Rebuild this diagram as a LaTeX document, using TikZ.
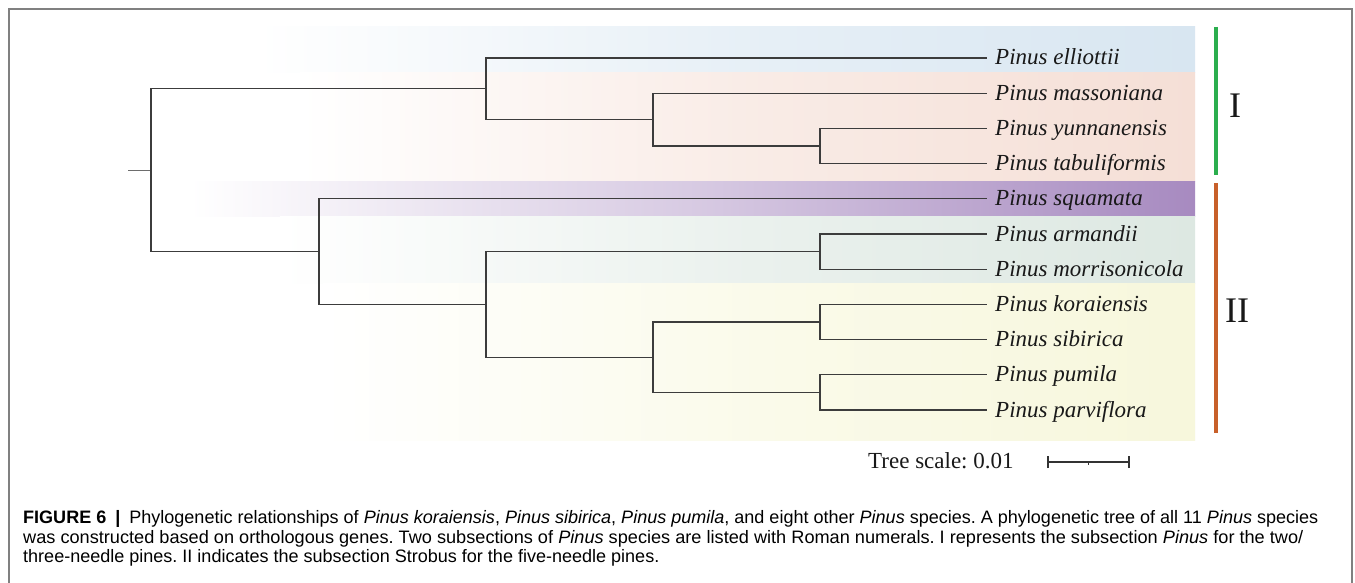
\documentclass[tikz,border=0pt]{standalone}
\usepackage{fontspec}
\setmainfont{Liberation Serif}
\newfontfamily\capfont{Liberation Sans}
\definecolor{bandblue}{HTML}{D8E6F1}
\definecolor{bandsalmon}{HTML}{F5DFD6}
\definecolor{bandpurple}{HTML}{A78AC0}
\definecolor{bandgreen}{HTML}{DDE8E2}
\definecolor{bandyellow}{HTML}{F7F7DC}
\definecolor{barI}{HTML}{2BAE4E}
\definecolor{barII}{HTML}{C8602A}
\definecolor{branchcol}{HTML}{3C3C3C}
\definecolor{capcol}{HTML}{404040}
\newsavebox\capboxA
\newsavebox\capboxB
\newsavebox\capboxC
\newlength\capwA
\newlength\capwB
\frenchspacing
\begin{document}
\frenchspacing
\sbox\capboxA{\capfont\fontsize{18}{20}\selectfont\textbf{FIGURE 6}\enspace\textbf{|}\enspace Phylogenetic relationships of \textit{Pinus koraiensis}, \textit{Pinus sibirica}, \textit{Pinus pumila}, and eight other \textit{Pinus} species. A phylogenetic tree of all 11 \textit{Pinus} species}
\sbox\capboxB{\capfont\fontsize{18}{20}\selectfont was constructed based on orthologous genes. Two subsections of \textit{Pinus} species are listed with Roman numerals. I represents the subsection \textit{Pinus} for the two/}
\sbox\capboxC{\capfont\fontsize{18}{20}\selectfont three-needle pines. II indicates the subsection Strobus for the five-needle pines.}
\setlength\capwA{\wd\capboxA}
\setlength\capwB{\wd\capboxB}
\begin{tikzpicture}[x=1pt,y=-1pt,
  branch/.style={draw=branchcol,line width=1.3pt},
  stub/.style={draw=branchcol!75,line width=1.3pt},
  leaflabel/.style={anchor=base west,inner sep=0pt,font=\fontsize{23}{26}\selectfont\itshape,text=black!90},
  roman/.style={anchor=base west,inner sep=0pt,font=\fontsize{36}{40}\selectfont,text=black!90},
  capline/.style={anchor=base west,inner sep=0pt,text=capcol},
  frameline/.style={draw=black!50,line width=1.2pt}]
\useasboundingbox (0,0) rectangle (1355,583);
\fill[white] (0,0) rectangle (1355,583);
% frame
\draw[frameline] (9,583) -- (9,9) -- (1352,9) -- (1352,583);
% bands
\shade[left color=white,right color=bandblue,middle color=bandblue!60!white] (257,27) rectangle (1195,73);
\shade[left color=white,right color=bandsalmon,middle color=bandsalmon!60!white] (300,73) rectangle (1195,181);
\shade[left color=white,right color=bandpurple,middle color=bandpurple!45!white] (190,181) rectangle (1195,216);
\shade[left color=white,right color=bandgreen,middle color=bandgreen!60!white] (280,216) rectangle (1195,283);
\shade[left color=white,right color=bandyellow,middle color=bandyellow!60!white] (323,283) rectangle (1195,440);
% internal nodes
\coordinate (root) at (151,170.2);
\coordinate (r0) at (128,170.2);
\coordinate (nI) at (486,88.8);
\coordinate (nM) at (653,119.6);
\coordinate (nYT) at (820,146);
\coordinate (nII) at (319,251.6);
\coordinate (nAK) at (486,304.4);
\coordinate (nAM) at (820,251.6);
\coordinate (nKP) at (653,357.2);
\coordinate (nKS) at (820,322);
\coordinate (nPP) at (820,392.4);
% tips
\foreach \i/\yy in {0/58,1/93.2,2/128.4,3/163.6,4/198.8,5/234,6/269.2,7/304.4,8/339.6,9/374.8,10/410}
  \coordinate (t\i) at (987,\yy);
% labels
\node[leaflabel] (l0) at ([xshift=8pt,yshift=-7pt]t0) {Pinus elliottii};
\node[leaflabel] (l1) at ([xshift=8pt,yshift=-7pt]t1) {Pinus massoniana};
\node[leaflabel] (l2) at ([xshift=8pt,yshift=-7pt]t2) {Pinus yunnanensis};
\node[leaflabel] (l3) at ([xshift=8pt,yshift=-7pt]t3) {Pinus tabuliformis};
\node[leaflabel] (l4) at ([xshift=8pt,yshift=-7pt]t4) {Pinus squamata};
\node[leaflabel] (l5) at ([xshift=8pt,yshift=-7pt]t5) {Pinus armandii};
\node[leaflabel] (l6) at ([xshift=8pt,yshift=-7pt]t6) {Pinus morrisonicola};
\node[leaflabel] (l7) at ([xshift=8pt,yshift=-7pt]t7) {Pinus koraiensis};
\node[leaflabel] (l8) at ([xshift=8pt,yshift=-7pt]t8) {Pinus sibirica};
\node[leaflabel] (l9) at ([xshift=8pt,yshift=-7pt]t9) {Pinus pumila};
\node[leaflabel] (l10) at ([xshift=8pt,yshift=-7pt]t10) {Pinus parviflora};
% branches
\draw[stub] (r0) -- (root);
\draw[branch] (root) |- (nI);
\draw[branch] (root) |- (nII);
\draw[branch] (nI) |- (t0);
\draw[branch] (nI) |- (nM);
\draw[branch] (nM) |- (t1);
\draw[branch] (nM) |- (nYT);
\draw[branch] (nYT) |- (t2);
\draw[branch] (nYT) |- (t3);
\draw[branch] (nII) |- (t4);
\draw[branch] (nII) |- (nAK);
\draw[branch] (nAK) |- (nAM);
\draw[branch] (nAK) |- (nKP);
\draw[branch] (nAM) |- (t5);
\draw[branch] (nAM) |- (t6);
\draw[branch] (nKP) |- (nKS);
\draw[branch] (nKP) |- (nPP);
\draw[branch] (nKS) |- (t7);
\draw[branch] (nKS) |- (t8);
\draw[branch] (nPP) |- (t9);
\draw[branch] (nPP) |- (t10);
% clade bars
\coordinate (bIa) at (1216,27);
\coordinate (bIb) at (1216,175);
\coordinate (bIIa) at (1216,183);
\coordinate (bIIb) at (1216,433);
\draw[draw=barI,line width=4pt] (bIa) -- (bIb);
\draw[draw=barII,line width=4pt] (bIIa) -- (bIIb);
\node[roman] (cI) at (1229,118) {I};
\node[roman] (cII) at (1225,322) {II};
% tree scale
\node[anchor=base west,inner sep=0pt,font=\fontsize{23}{26}\selectfont,text=black!90] (ts) at (868,468) {Tree scale: 0.01};
\coordinate (sa) at (1048,462);
\coordinate (sb) at (1129,462);
\coordinate (sm) at (1088.5,462);
\draw[draw=black!80,line width=1.1pt] (sa) -- (sb);
\draw[draw=black!80,line width=1.1pt] ([yshift=-6pt]sa) -- ([yshift=6pt]sa);
\draw[draw=black!80,line width=1.1pt] ([yshift=-6pt]sb) -- ([yshift=6pt]sb);
\draw[draw=black!80,line width=1pt] (sm) -- ([yshift=-3pt]sm);
% caption
\pgfmathsetmacro\capsxA{1295pt/\capwA}
\pgfmathsetmacro\capsxB{1280pt/\capwB}
\node[capline] (cap1) at (23,523) {\scalebox{\capsxA}[1]{\usebox\capboxA}};
\node[capline] (cap2) at (23,543) {\scalebox{\capsxB}[1]{\usebox\capboxB}};
\node[capline] (cap3) at (23,562) {\scalebox{\capsxA}[1]{\usebox\capboxC}};
\end{tikzpicture}
\end{document}
